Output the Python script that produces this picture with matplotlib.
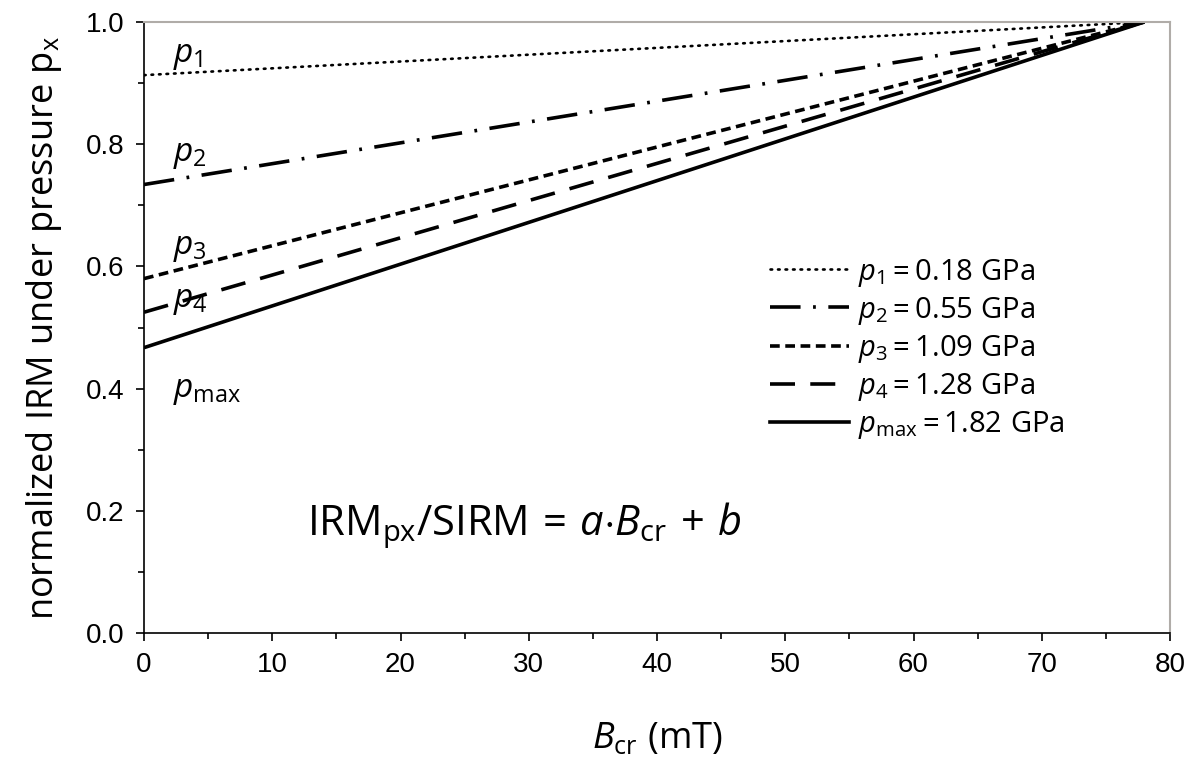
import matplotlib
matplotlib.use("Agg")
import matplotlib.pyplot as plt
from matplotlib.lines import Line2D

# Data
bcr = [0, 78]  # mT, line start/end
intercepts = [0.913, 0.734, 0.580, 0.525, 0.467]
end_value = 1.0
labels = ["p_{1}", "p_{2}", "p_{3}", "p_{4}", "p_{\\mathrm{max}}"]
pressures = ["0.18", "0.55", "1.09", "1.28", "1.82"]
label_y = [0.935, 0.772, 0.620, 0.534, 0.386]
xticks = list(range(0, 81, 10))
yticks = [0.0, 0.2, 0.4, 0.6, 0.8, 1.0]

plt.rcParams['font.family'] = ['Liberation Sans']
plt.rcParams['xtick.labelsize'] = 20
plt.rcParams['ytick.labelsize'] = 20
plt.rcParams['mathtext.fontset'] = 'custom'
plt.rcParams['mathtext.rm'] = 'Open Sans'
plt.rcParams['mathtext.it'] = 'Open Sans:italic'
plt.rcParams['lines.scale_dashes'] = False

fig = plt.figure(figsize=(12, 7.66), dpi=100)
ax = fig.add_axes([0.12, 0.1736, 0.855, 0.7977])

styles = [
    dict(lw=1.9, dashes=(1.2, 4.2), dash_capstyle='round'),
    dict(lw=2.6, dashes=(22, 9, 2, 9)),
    dict(lw=2.6, dashes=(7, 4)),
    dict(lw=2.6, dashes=(18, 11)),
    dict(lw=2.6),
]

handles = []
for b, st in zip(intercepts, styles):
    ax.plot(bcr, [b, end_value], color='black', solid_capstyle='butt', **st)
    handles.append(Line2D([], [], color='black', **st))

for lab, ly in zip(labels, label_y):
    ax.text(2.3, ly, r"$%s$" % lab, fontsize=24, va='baseline', ha='left')

leg = ax.legend(handles, [r"$%s\mathrm{ = %s\ GPa}$" % (l, p) for l, p in zip(labels, pressures)],
                loc='upper left', bbox_to_anchor=(0.596, 0.64), frameon=False,
                fontsize=21, handlelength=2.7, handletextpad=0.3, labelspacing=0.21,
                borderpad=0)

ax.text(12.7, 0.16, r"$\mathrm{IRM_{px}/SIRM\,=\,}a{\cdot}B_{\mathrm{cr}}\mathrm{\,+\,}b$",
        fontsize=30, va='baseline', ha='left')

ax.set_xlim(0, 80)
ax.set_ylim(0, 1.0)
ax.set_xticks(xticks)
ax.set_xticks(range(5, 80, 10), minor=True)
ax.set_yticks(yticks)
ax.set_yticks([0.1, 0.3, 0.5, 0.7, 0.9], minor=True)
ax.set_yticklabels(["%.1f" % v for v in yticks])
ax.tick_params(which='both', direction='out', length=6, width=1.2, pad=8)
ax.tick_params(which='minor', length=4)
ax.tick_params(top=False, right=False)
for s in ['top', 'right']:
    ax.spines[s].set_color('#b0aca8')
    ax.spines[s].set_linewidth(1.5)
for s in ['left', 'bottom']:
    ax.spines[s].set_linewidth(1.2)

ax.set_xlabel(r"$B_{\mathrm{cr}}\ \mathrm{(mT)}$", fontsize=26, labelpad=30)
ax.set_ylabel(r"$\mathrm{normalized\ IRM\ under\ pressure\ p_x}$", fontsize=26, labelpad=16)

fig.savefig("out.png", dpi=100)
